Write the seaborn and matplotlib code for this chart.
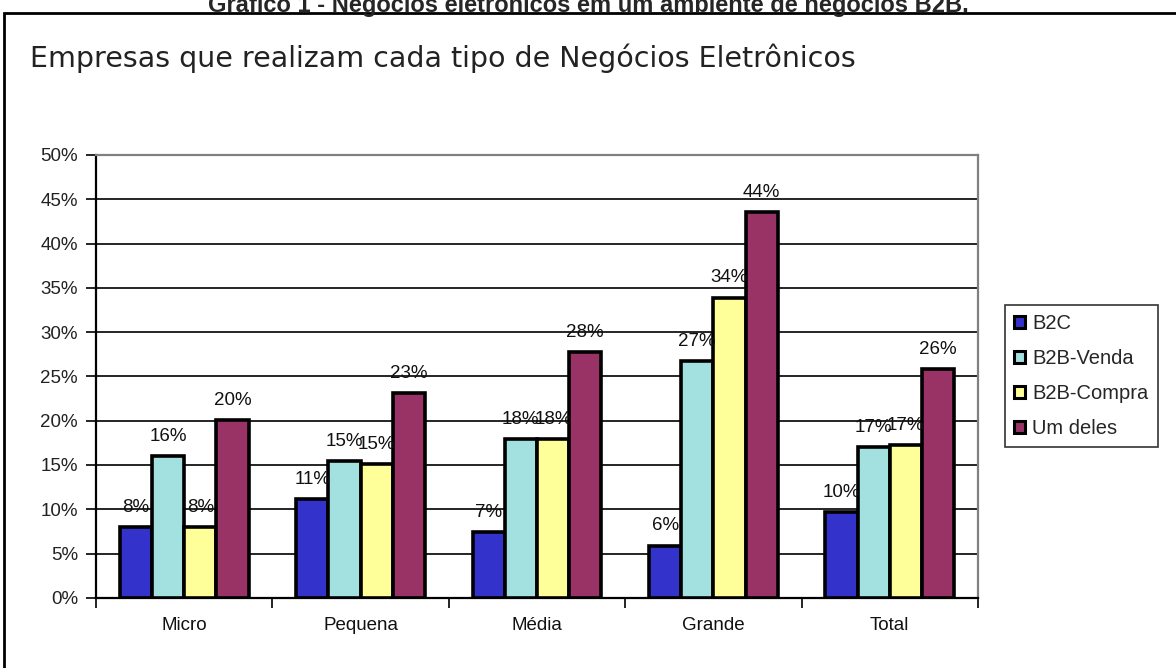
import matplotlib
matplotlib.use("Agg")
import matplotlib.pyplot as plt
from matplotlib.patches import Rectangle, Patch
from matplotlib.ticker import FixedLocator, FuncFormatter
import numpy as np
import pandas as pd
import seaborn as sns

# ── Data ─────────────────────────────────────────────────────
portes = ["Micro", "Pequena", "Média", "Grande", "Total"]
tipos = ["B2C", "B2B-Venda", "B2B-Compra", "Um deles"]
b2c = [8.0, 11.2, 7.4, 5.9, 9.7]
b2b_venda = [16.0, 15.4, 17.9, 26.7, 17.0]
b2b_compra = [8.0, 15.1, 17.9, 33.9, 17.3]
um_deles = [20.1, 23.1, 27.8, 43.6, 25.8]
yticks = [0, 5, 10, 15, 20, 25, 30, 35, 40, 45, 50]

cores = ["#3333CC", "#A3E0E0", "#FFFF99", "#993366"]

df = pd.DataFrame({
    "porte": portes * 4,
    "tipo": np.repeat(tipos, len(portes)),
    "valor": b2c + b2b_venda + b2b_compra + um_deles,
})

sns.set_style("white")
plt.rcParams["font.family"] = ["Liberation Sans", "DejaVu Sans"]

fig = plt.figure(figsize=(11.76, 6.68), dpi=100)
ax = fig.add_axes([0.0816, 0.105, 0.75, 0.663])

sns.barplot(data=df, x="porte", y="valor", hue="tipo", order=portes,
            hue_order=tipos, palette=cores, edgecolor="black", linewidth=2.6,
            width=0.73, saturation=1, ax=ax, zorder=3, legend=False)

# value labels (neighbouring labels touch, as in the original chart)
for cont in ax.containers:
    ax.bar_label(cont, labels=[f"{v:.0f}%" for v in cont.datavalues],
                 padding=8, fontsize=13.5, color="#111111")

ax.set_ylim(0, 50)
ax.set_xlim(-0.5, 4.5)
ax.yaxis.set_major_locator(FixedLocator(yticks))
ax.yaxis.set_major_formatter(FuncFormatter(lambda v, p: f"{v:.0f}%"))
ax.grid(axis="y", color="black", linewidth=1.2, zorder=0)
ax.set_axisbelow(True)
ax.set_xlabel("")
ax.set_ylabel("")
ax.tick_params(axis="y", labelsize=13.5, length=7, width=1.2, direction="out",
               left=True, color="black", pad=6, labelcolor="#222222")
ax.tick_params(axis="x", which="major", labelsize=13.5, length=0, pad=14,
               labelcolor="#111111")
ax.xaxis.set_minor_locator(FixedLocator(np.arange(-0.5, 5.0, 1.0)))
ax.tick_params(axis="x", which="minor", length=7, width=1.2, direction="out",
               bottom=True, color="black")
for s in ["left", "bottom"]:
    ax.spines[s].set_color("black")
    ax.spines[s].set_linewidth(1.6)
for s in ["top", "right"]:
    ax.spines[s].set_color("#808080")
    ax.spines[s].set_linewidth(1.6)

# legend
handles = [Patch(facecolor=c, edgecolor="black", linewidth=2.2) for c in cores]
leg = fig.legend(handles, tipos, loc="upper left",
                 bbox_to_anchor=(1005 / 1176, 1 - 305 / 668),
                 frameon=True, fancybox=False, fontsize=14.5,
                 handlelength=0.55, handleheight=0.55, handletextpad=0.35,
                 labelspacing=0.8, borderpad=0.45, borderaxespad=0)
leg.get_frame().set_edgecolor("black")
leg.get_frame().set_linewidth(1.2)

# chart title and outer frame
fig.text(30 / 1176, 1 - 58 / 668,
         "Empresas que realizam cada tipo de Negócios Eletrônicos",
         fontsize=20.5, family=["DejaVu Sans"], va="center",
         ha="left", color="#222222")
fig.add_artist(Rectangle((4 / 1176, -0.01), 1.2, 1 - 13 / 668 + 0.01,
                         transform=fig.transFigure, fill=False,
                         edgecolor="black", linewidth=2))

# caption cut at the top of the image (as in the reference)
fig.text(0.5, 1 - 12 / 668,
         "Gráfico 1 - Negócios eletrônicos em um ambiente de negócios B2B.",
         fontsize=17, fontweight="bold", ha="center", va="baseline")

fig.savefig("out.png", dpi=100)
